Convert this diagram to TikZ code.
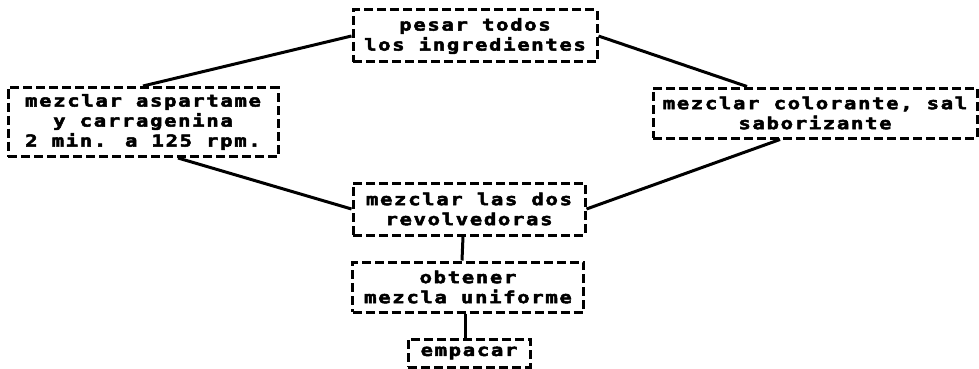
\documentclass[tikz,border=0pt]{standalone}
\usepackage{fontspec}
\newfontfamily\stepfont[LetterSpace=10, FakeStretch=1.25, UprightFont={* Bold}, FakeBold=3]{DejaVu Sans Mono}
\usetikzlibrary{positioning}
\tikzset{
  procbox/.style={draw, line width=3pt, dash pattern=on 9pt off 4pt, align=center, inner sep=0pt, font={\fontsize{16.5}{20}\selectfont\stepfont}},
  link/.style={line width=3pt}
}

\begin{document}
\begin{tikzpicture}[x=1pt, y=-1pt]
  \useasboundingbox (0,0) rectangle (979,369);
  \node[procbox, minimum width=244pt, minimum height=52pt] (pesar) at (475,36) {pesar todos\\los ingredientes};
  \node[procbox, minimum width=270pt, minimum height=69pt] (aspart) at (143,122) {mezclar aspartame\\y carragenina\\2 min. a 125 rpm.};
  \node[procbox, minimum width=324pt, minimum height=50pt] (color) at (815,113) {mezclar colorante, sal\\saborizante};
  \node[procbox, minimum width=232pt, minimum height=52pt] (revolv) at (469,209) {mezclar las dos\\revolvedoras};
  \node[procbox, minimum width=231pt, minimum height=50pt] (uniforme) at (468,287) {obtener\\mezcla uniforme};
  \node[procbox, minimum width=122pt, minimum height=28pt] (empacar) at (469,353) {empacar};

  \draw[link] (pesar.west) -- (aspart.north);
  \draw[link] (pesar.east) -- ([xshift=-68pt]color.north);
  \draw[link] ([xshift=35pt]aspart.south) -- (revolv.west);
  \draw[link] ([xshift=-35pt]color.south) -- (revolv.east);
  \draw[link] ([xshift=-6pt]revolv.south) -- ([xshift=-6pt]uniforme.north);
  \draw[link] ([xshift=-3pt]uniforme.south) -- ([xshift=-4pt]empacar.north);
\end{tikzpicture}
\end{document}
